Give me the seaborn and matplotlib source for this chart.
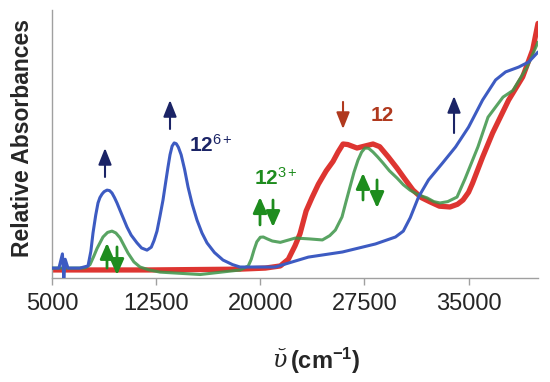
import matplotlib
matplotlib.use("Agg")
import matplotlib.pyplot as plt
import seaborn as sns
import pandas as pd

# spectra (wavenumber in cm-1, relative absorbance)
blue_wn = [5000, 5500, 5750, 5850, 5950, 6150, 7000, 7593, 7800, 7953, 8150, 8313, 8450, 8601,
           8750, 8961, 9150, 9321, 9500, 9681, 10000, 10402, 10700, 11122, 11450, 11842, 12150,
           12350, 12562, 12780, 12994, 13180, 13354, 13500, 13650, 13800, 13950, 14100, 14300,
           14550, 14795, 15100, 15443, 15800, 16163, 16700, 17315, 18000, 18539, 20000, 21082,
           23462, 25913, 28293, 29736, 30300, 30800, 31394, 32115, 33125, 34063, 35000, 36010,
           36947, 37668, 38606, 39327, 40000]
blue_abs = [0.037, 0.037, 0.09, 0.0, 0.07, 0.037, 0.037, 0.045, 0.100, 0.168, 0.235, 0.280, 0.300, 0.313,
            0.322, 0.328, 0.326, 0.317, 0.300, 0.280, 0.240, 0.190, 0.160, 0.131, 0.112, 0.104, 0.115,
            0.140, 0.175, 0.232, 0.291, 0.355, 0.414, 0.460, 0.492, 0.504, 0.501, 0.488, 0.460,
            0.405, 0.340, 0.275, 0.216, 0.168, 0.131, 0.095, 0.067, 0.050, 0.041, 0.041, 0.041,
            0.078, 0.097, 0.127, 0.153, 0.175, 0.225, 0.302, 0.366, 0.429, 0.489, 0.563, 0.664,
            0.739, 0.769, 0.787, 0.806, 0.843]

green_wn = [5000, 7000, 7400, 7737, 8000, 8241, 8673, 9000, 9321, 9600, 9897, 10200, 10474, 10900,
            11338, 12000, 12778, 15673, 18558, 19135, 19350, 19550, 19750, 20000, 20216, 20500,
            20865, 21442, 22524, 23500, 24471, 25000, 25409, 25886, 26150, 26462, 26750, 27038,
            27300, 27542, 27800, 28118, 28450, 28839, 29300, 29847, 30300, 30783, 31400, 32008,
            32500, 32944, 33500, 34168, 34744, 35680, 36400, 37481, 38201, 39210, 40000]
green_abs = [0.037, 0.037, 0.038, 0.050, 0.080, 0.110, 0.153, 0.170, 0.175, 0.168, 0.150, 0.120, 0.093, 0.060,
             0.041, 0.030, 0.022, 0.013, 0.030, 0.045, 0.070, 0.105, 0.135, 0.152, 0.153, 0.146,
             0.138, 0.133, 0.149, 0.146, 0.142, 0.158, 0.179, 0.228, 0.280, 0.340, 0.395, 0.440,
             0.470, 0.485, 0.484, 0.470, 0.452, 0.429, 0.400, 0.373, 0.348, 0.328, 0.310, 0.299,
             0.285, 0.280, 0.285, 0.302, 0.370, 0.490, 0.600, 0.675, 0.700, 0.787, 0.880]

red_wn = [5000, 12000, 18500, 20361, 21442, 22019, 22500, 22861, 23300, 23725, 24183, 24750,
          25238, 25600, 25958, 26300, 26966, 27500, 28118, 28600, 29231, 29847, 30400, 30999,
          31600, 32224, 32900, 33664, 34200, 34600, 35000, 35288, 36010, 36731, 37885, 38894,
          39615, 40000]
red_abs = [0.030, 0.030, 0.033, 0.037, 0.045, 0.070, 0.120, 0.165, 0.250, 0.300, 0.350, 0.400,
           0.435, 0.470, 0.500, 0.498, 0.485, 0.492, 0.500, 0.490, 0.451, 0.410, 0.370, 0.328,
           0.300, 0.284, 0.268, 0.265, 0.275, 0.291, 0.320, 0.354, 0.451, 0.541, 0.664, 0.750,
           0.851, 0.950]

xticks = [5000, 12500, 20000, 27500, 35000]

sns.set_style("white")
plt.rcParams["font.family"] = ["Liberation Sans", "DejaVu Sans"]
plt.rcParams["mathtext.fontset"] = "custom"
plt.rcParams["mathtext.rm"] = "Liberation Sans"
plt.rcParams["mathtext.it"] = "Liberation Sans"
plt.rcParams["mathtext.bf"] = "Liberation Sans:bold"

fig = plt.figure(figsize=(5.5, 3.82), dpi=100)
ax = fig.add_axes([52 / 550, 104 / 382, 486 / 550, 268 / 382])

red_df = pd.DataFrame({"wn": red_wn, "a": red_abs})
green_df = pd.DataFrame({"wn": green_wn, "a": green_abs})
blue_df = pd.DataFrame({"wn": blue_wn, "a": blue_abs})

sns.lineplot(data=red_df, x="wn", y="a", ax=ax, color="#DA1F1A", lw=3.8, alpha=0.9, zorder=2,
             solid_joinstyle="round", solid_capstyle="round")
sns.lineplot(data=green_df, x="wn", y="a", ax=ax, color="#3C9448", lw=2.2, alpha=0.85, zorder=3,
             solid_joinstyle="round")
sns.lineplot(data=blue_df, x="wn", y="a", ax=ax, color="#3D5BC2", lw=2.2, zorder=4,
             solid_joinstyle="round")

ax.set_xlim(5000, 40000)
ax.set_ylim(0, 1)
ax.set_xticks(xticks)
ax.set_xticklabels([str(t) for t in xticks])
ax.set_yticks([])
ax.set_xlabel("")
ax.set_ylabel("")
ax.tick_params(axis="x", direction="out", length=5, width=1, color="#A0A0A0",
               labelsize=17, pad=6, bottom=True)
for s in ["top", "right"]:
    ax.spines[s].set_visible(False)
for s in ["left", "bottom"]:
    ax.spines[s].set_color("#A0A0A0")
    ax.spines[s].set_linewidth(1)

navy = "#1B2466"
grn = "#1E8C1E"
brn = "#B0391E"


def arrow(x, y0, y1, color, lw, hl, hw):
    ax.annotate("", xy=(x, y1), xytext=(x, y0),
                arrowprops=dict(arrowstyle=f"-|>,head_length={hl},head_width={hw}",
                                color=color, lw=lw, shrinkA=0, shrinkB=0, mutation_scale=10),
                zorder=6, annotation_clip=False)


# navy arrows (12 6+ growing)
arrow(8817, 0.377, 0.485, navy, 1.5, 1.0, 0.4)
arrow(13498, 0.556, 0.664, navy, 1.5, 1.0, 0.4)
arrow(33952, 0.541, 0.679, navy, 1.5, 1.0, 0.4)
# red arrow (12 decreasing)
arrow(25958, 0.657, 0.556, brn, 1.5, 1.0, 0.4)
# green up/down pairs
arrow(8961, 0.037, 0.131, grn, 2, 0.95, 0.42)
arrow(9681, 0.116, 0.011, grn, 2, 0.95, 0.42)
arrow(19980, 0.198, 0.302, grn, 2, 0.95, 0.42)
arrow(20916, 0.291, 0.190, grn, 2, 0.95, 0.42)
arrow(27398, 0.291, 0.392, grn, 2, 0.95, 0.42)
arrow(28407, 0.366, 0.261, grn, 2, 0.95, 0.42)

ax.text(14867, 0.496, "12$^{6+}$", color=navy, fontsize=15, fontweight="bold",
        ha="left", va="center", zorder=7)
ax.text(19548, 0.373, "12$^{3+}$", color=grn, fontsize=15, fontweight="bold",
        ha="left", va="center", zorder=7)
ax.text(27974, 0.608, "12", color=brn, fontsize=15, fontweight="bold",
        ha="left", va="center", zorder=7)

fig.text(23 / 550, 1 - 138 / 382, "Relative Absorbances", rotation=90, fontsize=16.5,
         fontweight="bold", ha="center", va="center")
fig.text(279 / 550, 0.057, "\u1fe0", family=["DejaVu Serif"], style="italic", fontsize=17,
         ha="center", va="center")
fig.text(290 / 550, 0.055, "(cm$^{\\mathbf{-1}}$)", fontsize=17, fontweight="bold",
         ha="left", va="center")

fig.savefig("out.png", dpi=100)
